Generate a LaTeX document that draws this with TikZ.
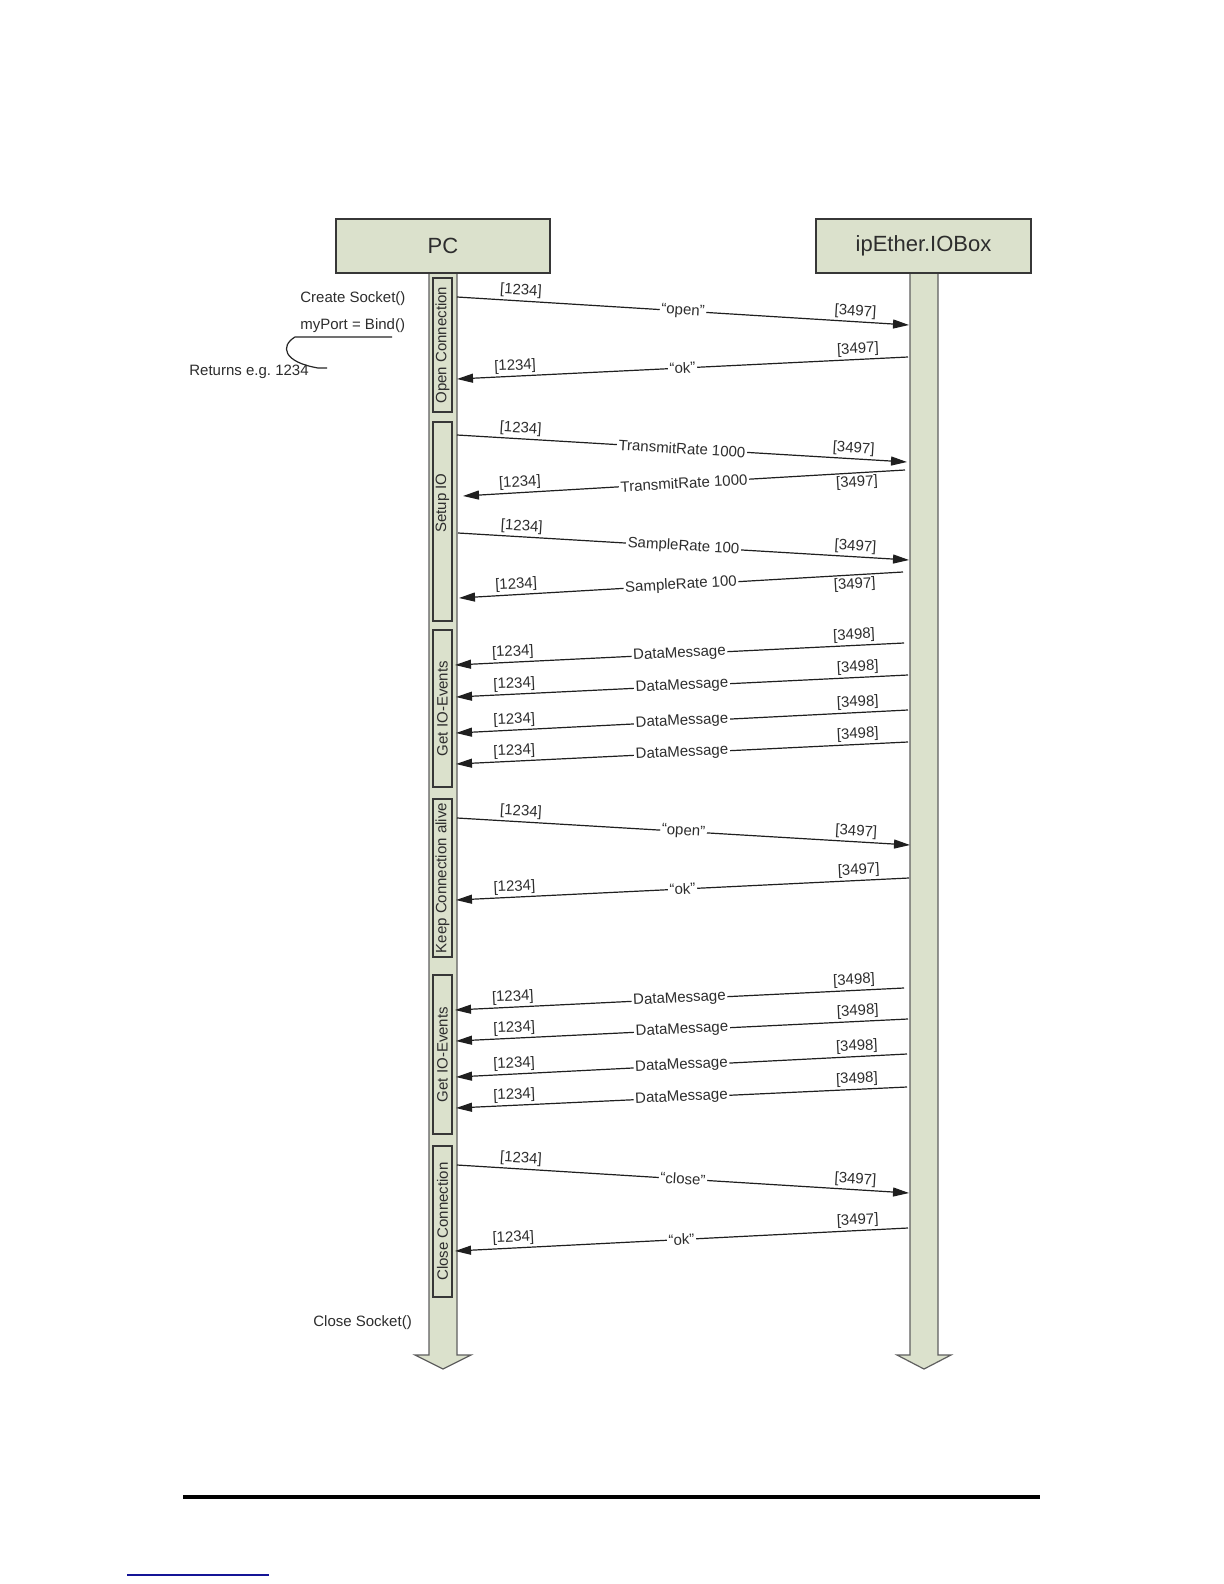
\documentclass[tikz,border=0pt]{standalone}
\usepackage{fontspec}
\setmainfont{Liberation Sans}
\usetikzlibrary{arrows.meta}
\frenchspacing
\definecolor{boxfill}{RGB}{219,225,204}
\definecolor{boxdraw}{RGB}{55,55,55}
\definecolor{lifedraw}{RGB}{95,95,95}
\definecolor{txt}{RGB}{45,45,45}
\definecolor{linkblue}{RGB}{20,20,150}
\tikzset{
  header/.style={draw=boxdraw, fill=boxfill, line width=0.75pt, inner sep=0pt,
    font=\fontsize{11}{13}\selectfont, text=txt},
  lifeline/.style={draw=lifedraw, fill=boxfill, line width=0.6pt, line join=miter},
  phase/.style={draw=boxdraw, fill=boxfill, line width=0.6pt, rotate=90, inner sep=0pt,
    minimum height=9.5pt, font=\fontsize{7.5}{9}\selectfont, text=txt},
  phasetxt/.style={rotate=90, inner sep=0pt, font=\fontsize{7.5}{9}\selectfont, text=txt},
  msgline/.style={draw=black!88, line width=0.6pt, -{Triangle[length=8pt,width=4.5pt]}},
  msglbl/.style={sloped, fill=white, inner sep=0.8pt, pos=0.5,
    font=\fontsize{7.5}{9}\selectfont, text=txt},
  portlbl/.style={sloped, inner sep=1.2pt, font=\fontsize{7.5}{9}\selectfont, text=txt},
  anno/.style={anchor=west, inner sep=0pt, font=\fontsize{7.5}{9}\selectfont, text=txt},
  annoline/.style={draw=black!85, line width=0.6pt}
}
\newcommand\msgR[7]{%
  \coordinate (#1a) at (#2,#3); \coordinate (#1b) at (#4,#5);
  \draw[msgline] (#1a) -- node[msglbl]{#6} node[portlbl,above,pos=0.14]{[1234]}
    node[portlbl,above,pos=0.88]{[#7]} (#1b);}
\newcommand\msgL[8]{%
  \coordinate (#1a) at (#2,#3); \coordinate (#1b) at (#4,#5);
  \draw[msgline] (#1a) -- node[msglbl]{#6} node[portlbl,#8,pos=0.11]{[#7]}
    node[portlbl,above,pos=0.87]{[1234]} (#1b);}
\begin{document}
\begin{tikzpicture}[x=0.5pt,y=-0.5pt]
\useasboundingbox (0,0) rectangle (1224,1584);
\fill[white] (0,0) rectangle (1224,1584);

% lifelines
\draw[lifeline] (429,273) -- (429,1355) -- (415,1355) -- (443,1369) -- (471,1355)
  -- (457,1355) -- (457,273) -- cycle;
\draw[lifeline] (910,273) -- (910,1355) -- (897,1355) -- (924,1369) -- (951,1355)
  -- (938,1355) -- (938,273) -- cycle;

% phase boxes
\node[phase, minimum width=67pt] (ph1) at (442.5,345) {Open Connection};
\node[phase, minimum width=99.5pt] (ph2) at (442.5,521.5) {};
\node[phasetxt] (ph2t) at (442.5,503) {Setup IO};
\node[phase, minimum width=78.5pt] (ph3) at (442.5,708.5) {Get IO-Events};
\node[phase, minimum width=79pt] (ph4) at (442.5,878) {Keep Connection alive};
\node[phase, minimum width=79.5pt] (ph5) at (442.5,1054.5) {Get IO-Events};
\node[phase, minimum width=75.5pt] (ph6) at (442.5,1221.5) {Close Connection};

% headers
\node[header, minimum width=107pt, minimum height=27pt] (pc) at (443,246) {PC};
\node[header, minimum width=107.5pt, minimum height=27pt] (box) at (923.5,246) {ipEther.IOBox};

% messages
\msgR{m1}{457}{297}{909}{325}{``open''}{3497}
\msgL{m2}{908}{357}{457}{379}{``ok''}{3497}{above}
\msgR{m3}{457}{435}{907}{462}{TransmitRate 1000}{3497}
\msgL{m4}{905}{470}{463}{496}{TransmitRate 1000}{3497}{below}
\msgR{m5}{458}{533}{909}{560}{SampleRate 100}{3497}
\msgL{m6}{903}{572}{459}{598}{SampleRate 100}{3497}{below}
\msgL{m7}{904}{643}{455}{665}{DataMessage}{3498}{above}
\msgL{m8}{908}{675}{456}{697}{DataMessage}{3498}{above}
\msgL{m9}{908}{710}{456}{733}{DataMessage}{3498}{above}
\msgL{m10}{908}{742}{456}{764}{DataMessage}{3498}{above}
\msgR{m11}{457}{818}{910}{845}{``open''}{3497}
\msgL{m12}{909}{878}{456}{900}{``ok''}{3497}{above}
\msgL{m13}{904}{988}{455}{1010}{DataMessage}{3498}{above}
\msgL{m14}{908}{1019}{456}{1041}{DataMessage}{3498}{above}
\msgL{m15}{907}{1054}{456}{1077}{DataMessage}{3498}{above}
\msgL{m16}{907}{1087}{456}{1108}{DataMessage}{3498}{above}
\msgR{m17}{457}{1165}{909}{1193}{``close''}{3497}
\msgL{m18}{908}{1228}{455}{1251}{``ok''}{3497}{above}

% annotations
\node[anno] (cs) at (300,299) {Create Socket()};
\node[anno] (bind) at (300,326) {myPort = Bind()};
\node[anno] (ret) at (189,372) {Returns e.g. 1234};
\node[anno] (close) at (313,1323) {Close Socket()};
\coordinate (u1) at (392,337);
\coordinate (u2) at (295,337);
\coordinate (u3) at (318,368);
\coordinate (u4) at (327,368);
\draw[annoline] (u1) -- (u2) .. controls (280,346) and (283,362) .. (u3) -- (u4);

% footer rules
\coordinate (f1) at (183,1497); \coordinate (f2) at (1040,1497);
\draw[line width=1.7pt, black] (f1) -- (f2);
\coordinate (l1) at (127,1575); \coordinate (l2) at (269,1575);
\draw[line width=0.6pt, linkblue] (l1) -- (l2);
\end{tikzpicture}
\end{document}
